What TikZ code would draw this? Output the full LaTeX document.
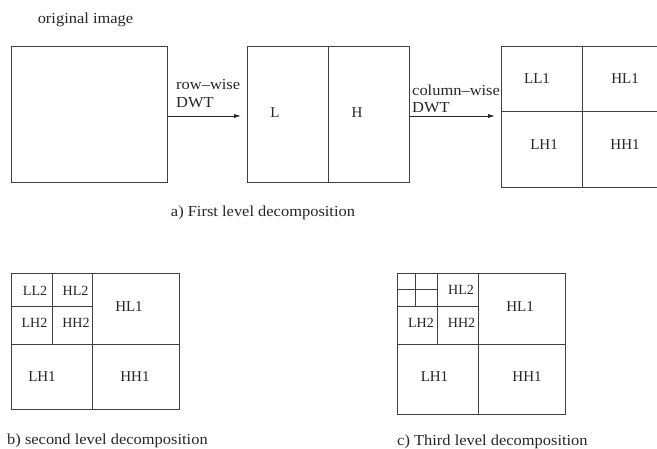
\documentclass[tikz,border=0pt]{standalone}
\usepackage{fontspec}
\setmainfont{Liberation Serif}
\newfontfamily\widefont[FakeStretch=1.075]{Liberation Serif}
\usetikzlibrary{arrows.meta}
\begin{document}
\begin{tikzpicture}[x=1pt,y=-1pt,
  ln/.style={draw=black!75,line width=0.9pt},
  boxnode/.style={ln,rectangle,inner sep=0pt,anchor=north west},
  lbl/.style={inner sep=0pt,font=\fontsize{15}{16}\selectfont,text=black!85},
  slbl/.style={inner sep=0pt,font=\fontsize{14}{15}\selectfont,text=black!85},
  wlbl/.style={inner sep=0pt,font=\widefont\fontsize{15.3}{16}\selectfont,text=black!85},
  captxt/.style={inner sep=0pt,font=\widefont\fontsize{15.3}{16}\selectfont,text=black!85},
  arr/.style={draw=black!85,line width=0.8pt,-{Latex[length=7pt,width=4pt]}}]
\useasboundingbox (0,0) rectangle (657,449);
\clip (0,0) rectangle (657,449);
% top row
\node[captxt] (origtxt) at (85.5,20) {original image};
\node[boxnode,minimum width=156pt,minimum height=136pt] (orig) at (11,46) {};
\node[boxnode,minimum width=162pt,minimum height=136pt] (lh) at (247,46) {};
\draw[ln] (328,46) -- (328,182);
\node[lbl] (L) at (275,113) {L};
\node[lbl] (H) at (357,113) {H};
% third box (cut at right edge)
\draw[ln] (670,46) -- (501,46) -- (501,187) -- (670,187);
\draw[ln] (501,111) -- (670,111);
\draw[ln] (582,46) -- (582,187);
\node[lbl] (LL1) at (537,79) {LL1};
\node[lbl] (HL1) at (625,79) {HL1};
\node[lbl] (LH1) at (544,145) {LH1};
\node[lbl] (HH1) at (625,145) {HH1};
% arrows
\coordinate (a1e) at (241,116);
\coordinate (a2e) at (495,116);
\draw[arr] (orig.east |- a1e) -- (a1e);
\draw[arr] (lh.east |- a2e) -- (a2e);
\node[wlbl,anchor=west] (rw) at (176,85) {row{\textendash}wise};
\node[wlbl,anchor=west] (dwt1) at (176,103) {DWT};
\node[wlbl,anchor=west] (cw) at (412,90) {column{\textendash}wise};
\node[wlbl,anchor=west] (dwt2) at (412,108) {DWT};
\node[captxt] (capa) at (263,213) {a) First level decomposition};
% b) second level
\node[boxnode,minimum width=168pt,minimum height=136pt] (bb) at (11,273) {};
\draw[ln] (92,273) -- (92,409);
\draw[ln] (11,344) -- (179,344);
\draw[ln] (52,273) -- (52,344);
\draw[ln] (11,306) -- (92,306);
\node[slbl] (bLL2) at (35,291) {LL2};
\node[slbl] (bHL2) at (75.5,291) {HL2};
\node[slbl] (bLH2) at (34.5,323) {LH2};
\node[slbl] (bHH2) at (76,323) {HH2};
\node[lbl] (bHL1) at (129,307) {HL1};
\node[lbl] (bLH1) at (42,377) {LH1};
\node[lbl] (bHH1) at (135,377) {HH1};
\node[captxt,anchor=west] (capb) at (7,441) {b) second level decomposition};
% c) third level
\node[boxnode,minimum width=168pt,minimum height=141pt] (cc) at (397,273) {};
\draw[ln] (478,273) -- (478,414);
\draw[ln] (397,344) -- (565,344);
\draw[ln] (437,273) -- (437,344);
\draw[ln] (397,306) -- (478,306);
\draw[ln] (415,273) -- (415,306);
\draw[ln] (397,289) -- (437,289);
\node[slbl] (cHL2) at (461,290) {HL2};
\node[slbl] (cLH2) at (421,323) {LH2};
\node[slbl] (cHH2) at (461.5,323) {HH2};
\node[lbl] (cHL1) at (520,307) {HL1};
\node[lbl] (cLH1) at (434.5,377) {LH1};
\node[lbl] (cHH1) at (527,377) {HH1};
\node[captxt,anchor=west] (capc) at (397,442) {c) Third level decomposition};
\end{tikzpicture}
\end{document}
